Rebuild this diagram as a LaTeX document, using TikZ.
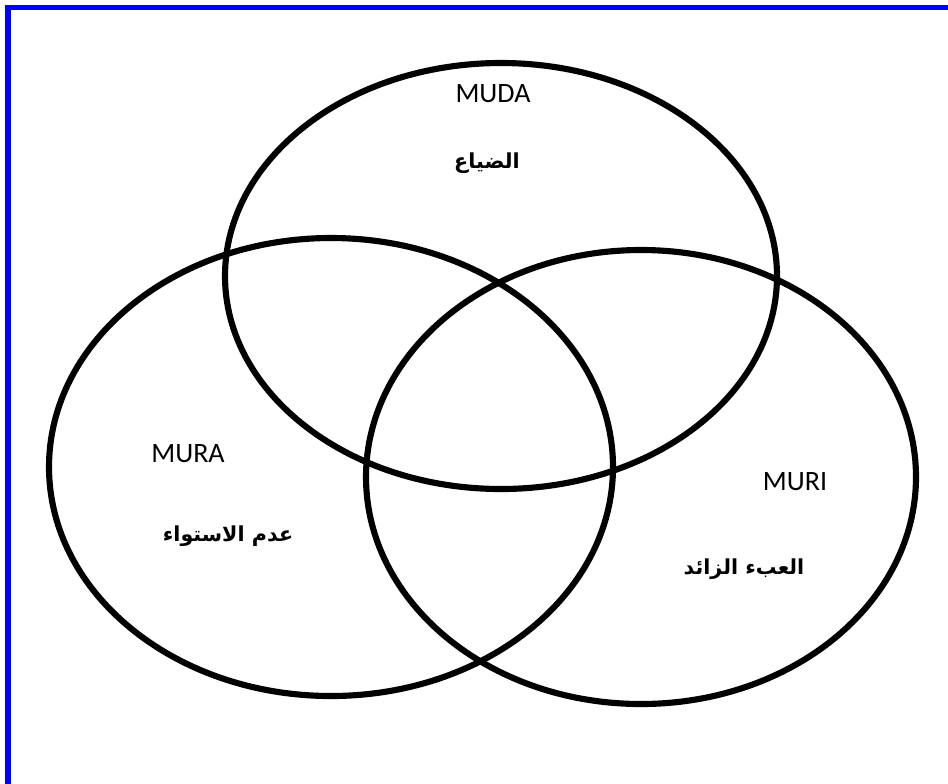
\documentclass[tikz,border=0pt]{standalone}
\usepackage{fontspec}
\setmainfont{Carlito}
\newfontfamily\arabicfont[Script=Arabic]{DejaVu Sans}
\TeXXeTstate=1
\begin{document}
\begin{tikzpicture}[x=0.75pt,y=-0.75pt,
  circ/.style={line width=4.6pt,draw=black},
  lat/.style={font=\fontsize{21}{24}\selectfont,inner sep=0pt},
  arab/.style={font=\arabicfont\bfseries\fontsize{15.5}{18}\selectfont,inner sep=0pt}]
\useasboundingbox (0,0) rectangle (948,783);
\clip (0,0) rectangle (948,783);
\fill[white] (0,0) rectangle (948,783);
\draw[line width=3.8pt,draw=blue] (8,7.5) rectangle (953,787);
\draw[circ] (501,276) ellipse [x radius=276, y radius=213];
\draw[circ] (331,467) ellipse [x radius=282, y radius=229];
\draw[circ] (641,477) ellipse [x radius=275, y radius=227];
\node[lat] (muda) at (493,94) {MUDA};
\node[arab] (mudaar) at (487,163) {\beginR الضياع\endR};
\node[lat] (mura) at (188,454) {MURA};
\node[arab] (muraar) at (228,536) {\beginR عدم الاستواء\endR};
\node[lat] (muri) at (795,482) {MURI};
\node[arab] (muriar) at (744,569) {\beginR العبء الزائد\endR};
\end{tikzpicture}
\end{document}
